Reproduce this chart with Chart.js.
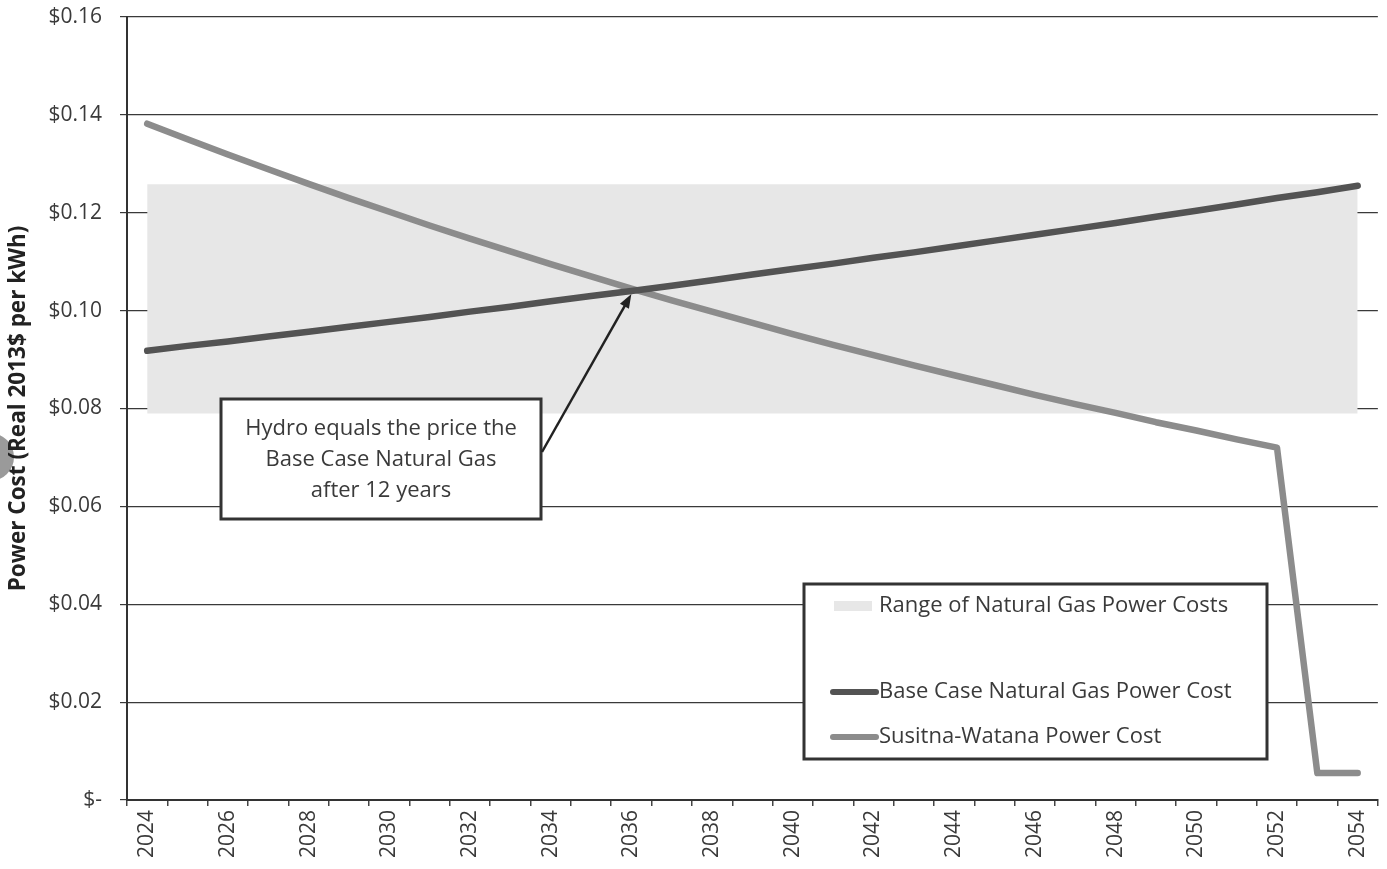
<!DOCTYPE html>
<html>
<head>
<meta charset="utf-8">
<script src="https://cdn.jsdelivr.net/npm/chart.js@4"></script>
<style>
  html, body { margin: 0; padding: 0; background: #fff; }
  #wrap { width: 1387px; height: 869px; }
</style>
</head>
<body>
<div id="wrap"><canvas id="c" width="1387" height="869"></canvas></div>
<script>
const years = [2024, 2025, 2026, 2027, 2028, 2029, 2030, 2031, 2032, 2033,
  2034, 2035, 2036, 2037, 2038, 2039, 2040, 2041, 2042, 2043,
  2044, 2045, 2046, 2047, 2048, 2049, 2050, 2051, 2052, 2053, 2054];

// 天然气价格区间（上下限）
const rangeLow = [0.079, 0.079, 0.079, 0.079, 0.079, 0.079, 0.079, 0.079, 0.079, 0.079,
  0.079, 0.079, 0.079, 0.079, 0.079, 0.079, 0.079, 0.079, 0.079, 0.079,
  0.079, 0.079, 0.079, 0.079, 0.079, 0.079, 0.079, 0.079, 0.079, 0.079, 0.079];
const rangeHigh = [0.1258, 0.1258, 0.1258, 0.1258, 0.1258, 0.1258, 0.1258, 0.1258, 0.1258, 0.1258,
  0.1258, 0.1258, 0.1258, 0.1258, 0.1258, 0.1258, 0.1258, 0.1258, 0.1258, 0.1258,
  0.1258, 0.1258, 0.1258, 0.1258, 0.1258, 0.1258, 0.1258, 0.1258, 0.1258, 0.1258, 0.1258];

const baseGas = [0.0918, 0.0928, 0.0937, 0.0947, 0.0957, 0.0967, 0.0977, 0.0987, 0.0998, 0.1008,
  0.1019, 0.1030, 0.1040, 0.1051, 0.1062, 0.1074, 0.1085, 0.1096, 0.1108, 0.1119,
  0.1131, 0.1143, 0.1155, 0.1167, 0.1179, 0.1192, 0.1204, 0.1217, 0.1230, 0.1242, 0.1255];

const susitna = [0.1382, 0.1350, 0.1319, 0.1289, 0.1259, 0.1230, 0.1202, 0.1174, 0.1147, 0.1121,
  0.1095, 0.1070, 0.1045, 0.1021, 0.0998, 0.0975, 0.0952, 0.0930, 0.0909, 0.0888,
  0.0868, 0.0848, 0.0828, 0.0809, 0.0791, 0.0772, 0.0755, 0.0737, 0.0720, 0.0055, 0.0055];

const yTicks = [0, 0.02, 0.04, 0.06, 0.08, 0.10, 0.12, 0.14, 0.16];

const calloutLines = ['Hydro equals the price the', 'Base Case Natural Gas', 'after 12 years'];
const crossYear = 2036;
const crossValue = 0.1042;

const FONT = '"Open Sans", Lato, sans-serif';
const colors = {
  band: '#e7e7e7',
  gas: '#535353',
  hydro: '#8c8c8c',
  text: '#3a3a3a',
  frame: '#333333',
};

// 扫描件左侧的打孔圆点
const punchHole = {
  id: 'punchHole',
  beforeDraw(chart) {
    const { ctx } = chart;
    ctx.save();
    ctx.fillStyle = '#9a9a9a';
    ctx.beginPath();
    ctx.arc(-10, 457, 24, 0, Math.PI * 2);
    ctx.fill();
    ctx.restore();
  },
};

// 注释框 + 箭头，以及图例框
const overlay = {
  id: 'overlay',
  afterDraw(chart) {
    const { ctx, scales } = chart;
    const xs = scales.x, ys = scales.y;
    ctx.save();

    // callout box
    const bx = 221, by = 399, bw = 320, bh = 120;
    ctx.fillStyle = '#ffffff';
    ctx.fillRect(bx, by, bw, bh);
    ctx.strokeStyle = colors.frame;
    ctx.lineWidth = 3;
    ctx.strokeRect(bx, by, bw, bh);
    ctx.fillStyle = colors.text;
    ctx.font = '22px ' + FONT;
    ctx.textAlign = 'center';
    ctx.textBaseline = 'middle';
    calloutLines.forEach((t, i) => ctx.fillText(t, bx + bw / 2, by + 30 + i * 31));

    // arrow to the crossing point
    const tx = xs.getPixelForValue(years.indexOf(crossYear));
    const ty = ys.getPixelForValue(crossValue) + 4;
    const sx = bx + bw + 1, sy = 452;
    const ang = Math.atan2(ty - sy, tx - sx);
    ctx.strokeStyle = '#222';
    ctx.lineWidth = 2.5;
    ctx.beginPath();
    ctx.moveTo(sx, sy);
    ctx.lineTo(tx - 8 * Math.cos(ang), ty - 8 * Math.sin(ang));
    ctx.stroke();
    ctx.fillStyle = '#222';
    ctx.beginPath();
    ctx.moveTo(tx, ty);
    ctx.lineTo(tx - 15 * Math.cos(ang - 0.35), ty - 15 * Math.sin(ang - 0.35));
    ctx.lineTo(tx - 15 * Math.cos(ang + 0.35), ty - 15 * Math.sin(ang + 0.35));
    ctx.closePath();
    ctx.fill();

    // legend box
    const lx = 804, ly = 584, lw = 463, lh = 175;
    ctx.fillStyle = '#ffffff';
    ctx.fillRect(lx, ly, lw, lh);
    ctx.strokeStyle = colors.frame;
    ctx.lineWidth = 3;
    ctx.strokeRect(lx, ly, lw, lh);

    const ds = chart.data.datasets;
    const items = [
      { d: ds[1], y: 606, kind: 'box' },
      { d: ds[2], y: 692, kind: 'line' },
      { d: ds[3], y: 737, kind: 'line' },
    ];
    ctx.font = '22px ' + FONT;
    ctx.textAlign = 'left';
    ctx.textBaseline = 'middle';
    items.forEach(it => {
      if (it.kind === 'box') {
        ctx.fillStyle = it.d.backgroundColor;
        ctx.fillRect(834, it.y - 5, 38, 10);
      } else {
        ctx.strokeStyle = it.d.borderColor;
        ctx.lineWidth = 6;
        ctx.lineCap = 'round';
        ctx.beginPath();
        ctx.moveTo(833, it.y);
        ctx.lineTo(876, it.y);
        ctx.stroke();
      }
      ctx.fillStyle = colors.text;
      ctx.fillText(it.d.label, 879, it.y);
    });

    ctx.restore();
  },
};

new Chart(document.getElementById('c').getContext('2d'), {
  type: 'line',
  plugins: [punchHole, overlay],
  data: {
    labels: years,
    datasets: [
      {
        label: 'Range low',
        data: rangeLow,
        borderWidth: 0,
        pointRadius: 0,
        fill: false,
        order: 5,
      },
      {
        label: 'Range of Natural Gas Power Costs',
        data: rangeHigh,
        borderWidth: 0,
        borderColor: 'rgba(0,0,0,0)',
        backgroundColor: colors.band,
        pointRadius: 0,
        fill: '-1',
        order: 4,
      },
      {
        label: 'Base Case Natural Gas Power Cost',
        data: baseGas,
        borderColor: colors.gas,
        borderWidth: 6.5,
        borderCapStyle: 'round',
        borderJoinStyle: 'round',
        pointRadius: 0,
        fill: false,
        tension: 0,
        order: 1,
      },
      {
        label: 'Susitna-Watana Power Cost',
        data: susitna,
        borderColor: colors.hydro,
        borderWidth: 6.5,
        borderCapStyle: 'round',
        borderJoinStyle: 'round',
        pointRadius: 0,
        fill: false,
        tension: 0,
        order: 2,
      },
    ],
  },
  options: {
    responsive: false,
    animation: false,
    layout: { padding: { top: 17, right: 7, left: 0, bottom: 0 } },
    plugins: {
      legend: { display: false },
      tooltip: { enabled: false },
    },
    scales: {
      x: {
        type: 'category',
        offset: true,
        afterFit: (s) => { s.height = 69; },
        grid: { drawOnChartArea: false, drawTicks: true, tickLength: 6, color: '#444', lineWidth: 1.5, offset: true },
        border: { color: colors.frame, width: 2 },
        ticks: {
          autoSkip: false,
          minRotation: 90,
          maxRotation: 90,
          padding: 4,
          color: colors.text,
          font: { family: FONT, size: 21 },
          callback: (v, i) => (i % 2 === 0 ? String(years[i]) : ''),
        },
      },
      y: {
        min: 0,
        max: 0.16,
        afterFit: (s) => { s.width = 127; s.paddingTop = 0; s.paddingBottom = 0; },
        afterBuildTicks: (s) => { s.ticks = yTicks.map(v => ({ value: v })); },
        grid: { color: '#3a3a3a', lineWidth: 1.2, tickLength: 7 },
        border: { color: colors.frame, width: 2 },
        title: {
          display: true,
          text: 'Power Cost (Real 2013$ per kWh)',
          color: '#222',
          font: { family: FONT, size: 22.5, weight: 'bold' },
          padding: { top: 5, bottom: 0 },
        },
        ticks: {
          padding: 18,
          color: colors.text,
          font: { family: FONT, size: 21 },
          callback: (v) => (v === 0 ? '$-' : '$' + Number(v).toFixed(2)),
        },
      },
    },
  },
});
</script>
</body>
</html>
